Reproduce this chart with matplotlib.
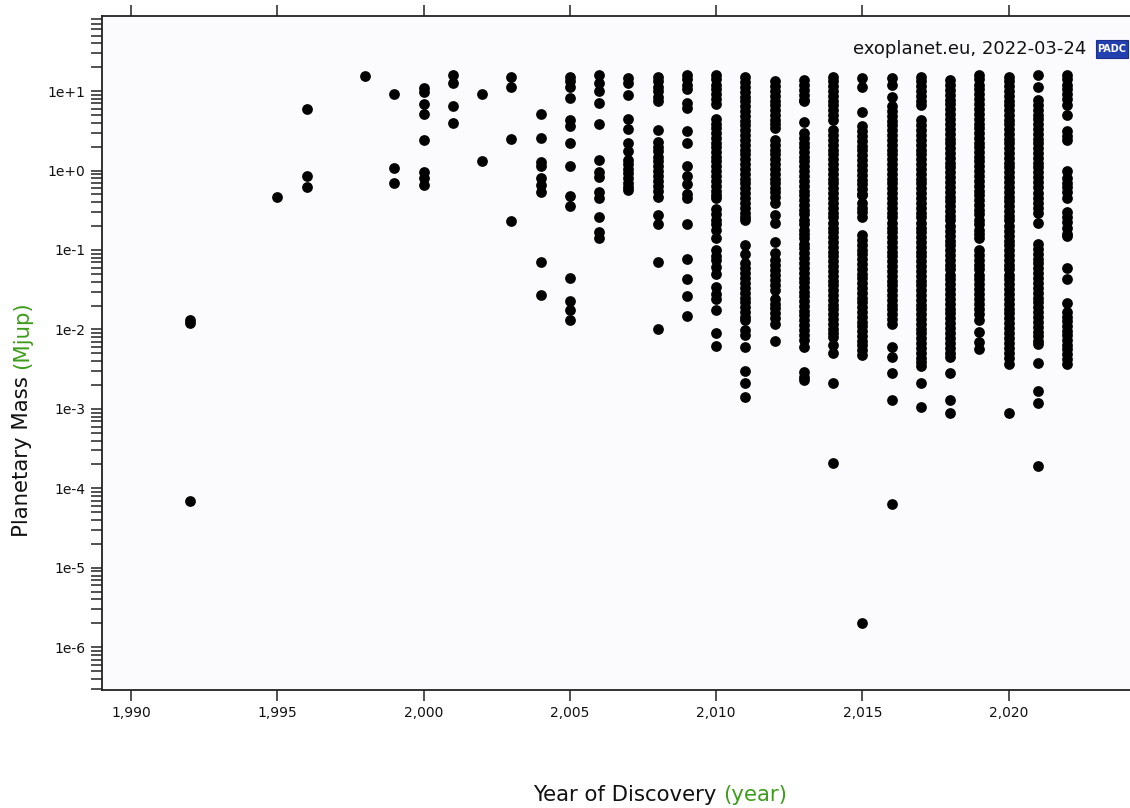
import matplotlib
matplotlib.use("Agg")
import matplotlib.pyplot as plt
from matplotlib.patches import Rectangle
from matplotlib.ticker import LogLocator, NullFormatter

# planetary masses (Mjup) per discovery year
m1992 = [0.013, 0.012, 7e-5]
m1995 = [0.47]
m1996 = [5.9, 0.85, 0.62]
m1998 = [15.4]
m1999 = [9.3, 1.07, 0.70]
m2000 = [10.9, 9.7, 6.9, 5.1, 2.4, 0.97, 0.80, 0.66]
m2001 = [15.8, 12.8, 6.4, 4.0]
m2002 = [9.3, 1.33]
m2003 = [15.2, 11.4, 2.5, 0.23]
m2004 = [5.1, 2.6, 1.29, 1.14, 0.80, 0.66, 0.54, 0.070, 0.027]
m2005 = [15.2, 13.2, 11.2, 8.1, 4.3, 3.6, 2.2, 1.14, 0.48, 0.36, 0.045, 0.023, 0.0174, 0.013]
m2006 = [16, 12.6, 9.9, 7.0, 3.9, 1.36, 0.97, 0.84, 0.54, 0.45, 0.257, 0.17, 0.14]
m2007 = [14.6, 12.6, 9.0, 4.4, 3.3, 2.2, 1.75, 1.36, 1.2, 1.05, 0.92, 0.80, 0.70, 0.62, 0.57]
m2008 = [15.2, 13.2, 11.4, 10, 8.5, 7.4, 3.2, 2.3, 2.0, 1.75, 1.5, 1.3, 1.13, 0.98, 0.85, 0.74,
         0.64, 0.56, 0.47, 0.275, 0.21, 0.07, 0.01]
m2009 = [16, 14, 12, 10.5, 7.0, 6.1, 3.1, 2.24, 1.14, 0.85, 0.68, 0.51, 0.45, 0.21, 0.076, 0.043,
         0.026, 0.0147]
m2010 = [16, 14, 12, 10.5, 9.1, 7.9, 6.9, 4.5, 3.9, 3.4, 3, 2.6, 2.25, 1.95, 1.7, 1.5, 1.3,
         1.13, 0.98, 0.85, 0.74, 0.64, 0.56, 0.49, 0.45, 0.33, 0.28, 0.24, 0.21, 0.18, 0.14,
         0.1, 0.085, 0.074, 0.061, 0.05, 0.034, 0.028, 0.024, 0.0175, 0.009, 0.0062]
m2011 = [15.2, 13, 11.3, 9.8, 8.5, 7.4, 6.4, 5.6, 4.9, 4.2, 3.7, 3.2, 2.8, 2.4, 2.1, 1.8, 1.6,
         1.4, 1.2, 1.05, 0.91, 0.79, 0.69, 0.6, 0.52, 0.45, 0.39, 0.34, 0.29, 0.26, 0.24, 0.115,
         0.09, 0.068, 0.059, 0.051, 0.044, 0.038, 0.033, 0.029, 0.025, 0.022, 0.019, 0.0165,
         0.0145, 0.013, 0.0098, 0.0085, 0.006, 0.003, 0.0021, 0.0014]
m2012 = [13.2, 11.5, 10, 8.7, 7.6, 6.6, 5.7, 5, 4.3, 3.8, 3.4, 2.4, 2.1, 1.8, 1.6, 1.4, 1.2,
         1.05, 0.91, 0.79, 0.69, 0.6, 0.53, 0.47, 0.39, 0.275, 0.216, 0.126, 0.092, 0.074, 0.064,
         0.056, 0.049, 0.042, 0.036, 0.031, 0.0245, 0.021, 0.0185, 0.016, 0.0138, 0.0118, 0.0071]
m2013 = [13.8, 12, 10.4, 9, 7.8, 7.4, 4.1, 2.95, 2.55, 2.2, 1.95, 1.7, 1.5, 1.3, 1.13, 0.98,
         0.85, 0.74, 0.64, 0.56, 0.49, 0.42, 0.37, 0.32, 0.28, 0.24, 0.21, 0.18, 0.16, 0.14, 0.12,
         0.105, 0.091, 0.079, 0.069, 0.06, 0.052, 0.045, 0.039, 0.034, 0.03, 0.026, 0.0225,
         0.0195, 0.017, 0.015, 0.013, 0.0113, 0.0098, 0.0085, 0.0074, 0.006, 0.0029, 0.0025,
         0.0023]
m2014 = [15.2, 13.2, 11.5, 10, 8.7, 7.6, 6.6, 5.7, 5, 4.3, 3.2, 2.8, 2.4, 2.1, 1.8, 1.6, 1.4,
         1.2, 1.05, 0.91, 0.79, 0.69, 0.6, 0.52, 0.45, 0.39, 0.34, 0.29, 0.26, 0.22, 0.19, 0.17,
         0.145, 0.125, 0.11, 0.095, 0.083, 0.072, 0.062, 0.054, 0.047, 0.041, 0.036, 0.031,
         0.027, 0.0235, 0.0205, 0.018, 0.0155, 0.0135, 0.0117, 0.0102, 0.0089, 0.008, 0.0063,
         0.005, 0.0021, 0.00021]
m2015 = [14.6, 11.4, 5.5, 3.6, 3.1, 2.7, 2.35, 2.05, 1.8, 1.55, 1.35, 1.17, 1.02, 0.89, 0.77,
         0.67, 0.58, 0.51, 0.49, 0.39, 0.34, 0.3, 0.26, 0.154, 0.134, 0.116, 0.1, 0.088, 0.076,
         0.066, 0.058, 0.05, 0.044, 0.038, 0.033, 0.029, 0.025, 0.022, 0.019, 0.0165, 0.0145,
         0.0125, 0.011, 0.0095, 0.0083, 0.0072, 0.0063, 0.0055, 0.0047, 2.05e-6]
m2016 = [14.6, 12, 8.3, 6.4, 5.6, 4.9, 4.2, 3.7, 3.2, 2.8, 2.4, 2.1, 1.8, 1.6, 1.4, 1.2, 1.05,
         0.91, 0.79, 0.69, 0.6, 0.52, 0.45, 0.39, 0.34, 0.29, 0.26, 0.22, 0.19, 0.17, 0.145,
         0.125, 0.11, 0.095, 0.083, 0.072, 0.062, 0.054, 0.047, 0.041, 0.036, 0.031, 0.027,
         0.0235, 0.0205, 0.018, 0.0155, 0.0135, 0.0118, 0.006, 0.0045, 0.0028, 0.0013, 6.3e-5]
m2017 = [15.2, 13.2, 11.5, 10, 8.7, 7.6, 6.7, 4.3, 3.7, 3.2, 2.8, 2.4, 2.1, 1.8, 1.6, 1.4, 1.2,
         1.05, 0.91, 0.79, 0.69, 0.6, 0.52, 0.45, 0.39, 0.34, 0.29, 0.26, 0.22, 0.19, 0.17, 0.145,
         0.125, 0.11, 0.095, 0.083, 0.072, 0.062, 0.054, 0.047, 0.041, 0.036, 0.031, 0.027,
         0.0235, 0.0205, 0.018, 0.0155, 0.0135, 0.0117, 0.0102, 0.0089, 0.0077, 0.0067, 0.0058,
         0.005, 0.0044, 0.0039, 0.0035, 0.0021, 0.00105]
m2018 = [13.8, 12, 10.4, 9, 7.8, 6.8, 5.9, 5.1, 4.4, 3.8, 3.3, 2.9, 2.5, 2.2, 1.9, 1.65, 1.45,
         1.25, 1.1, 0.95, 0.83, 0.72, 0.62, 0.54, 0.47, 0.41, 0.36, 0.31, 0.27, 0.235, 0.2, 0.175,
         0.15, 0.13, 0.115, 0.1, 0.087, 0.075, 0.065, 0.057, 0.049, 0.043, 0.037, 0.032, 0.028,
         0.024, 0.021, 0.018, 0.016, 0.014, 0.012, 0.0104, 0.009, 0.0078, 0.0068, 0.0059, 0.0051,
         0.0045, 0.0028, 0.0013, 0.0009]
m2019 = [16, 14, 12, 10.5, 9.1, 7.9, 6.9, 6, 5.2, 4.5, 3.9, 3.4, 3, 2.6, 2.25, 1.95, 1.7, 1.5,
         1.3, 1.13, 0.98, 0.85, 0.74, 0.64, 0.56, 0.49, 0.42, 0.37, 0.32, 0.28, 0.24, 0.21, 0.18,
         0.16, 0.14, 0.1, 0.087, 0.075, 0.065, 0.057, 0.049, 0.043, 0.037, 0.032, 0.028, 0.024,
         0.021, 0.018, 0.0155, 0.013, 0.0093, 0.0069, 0.0057]
m2020 = [15.2, 13.2, 11.5, 10, 8.7, 7.6, 6.6, 5.7, 5, 4.3, 3.8, 3.3, 2.9, 2.5, 2.2, 1.9, 1.65,
         1.45, 1.25, 1.1, 0.95, 0.83, 0.72, 0.62, 0.54, 0.47, 0.41, 0.36, 0.31, 0.27, 0.235, 0.2,
         0.175, 0.15, 0.13, 0.115, 0.1, 0.087, 0.075, 0.065, 0.057, 0.049, 0.043, 0.037, 0.032,
         0.028, 0.024, 0.021, 0.018, 0.016, 0.014, 0.012, 0.0104, 0.009, 0.0078, 0.0068, 0.0059,
         0.0051, 0.0044, 0.0037, 0.0009]
m2021 = [16, 11.4, 7.7, 6.7, 5.8, 5, 4.4, 3.8, 3.3, 2.9, 2.5, 2.2, 1.9, 1.65, 1.45, 1.25, 1.1,
         0.95, 0.83, 0.72, 0.62, 0.52, 0.45, 0.39, 0.34, 0.29, 0.216, 0.12, 0.104, 0.09, 0.078,
         0.068, 0.059, 0.051, 0.044, 0.038, 0.033, 0.029, 0.025, 0.022, 0.019, 0.0165, 0.0143,
         0.0124, 0.0108, 0.0094, 0.0082, 0.0072, 0.0066, 0.0038, 0.0017, 0.0012, 0.00019]
m2022 = [16, 14, 12, 10.5, 9.1, 7.9, 6.7, 5.0, 3.1, 2.7, 2.4, 1.0, 0.8, 0.7, 0.62, 0.54, 0.45,
         0.3, 0.26, 0.225, 0.19, 0.16, 0.15, 0.06, 0.043, 0.0216, 0.0166, 0.0145, 0.0127, 0.011,
         0.0096, 0.0084, 0.0073, 0.0064, 0.0056, 0.0049, 0.0042, 0.0037]

years = [1992, 1995, 1996, 1998, 1999, 2000, 2001, 2002, 2003, 2004, 2005, 2006, 2007, 2008,
         2009, 2010, 2011, 2012, 2013, 2014, 2015, 2016, 2017, 2018, 2019, 2020, 2021, 2022]
per_year = [m1992, m1995, m1996, m1998, m1999, m2000, m2001, m2002, m2003, m2004, m2005, m2006,
            m2007, m2008, m2009, m2010, m2011, m2012, m2013, m2014, m2015, m2016, m2017, m2018,
            m2019, m2020, m2021, m2022]

xticks = [1990, 1995, 2000, 2005, 2010, 2015, 2020]
xlabels = ["1,990", "1,995", "2,000", "2,005", "2,010", "2,015", "2,020"]
yticks = [1e1, 1e0, 1e-1, 1e-2, 1e-3, 1e-4, 1e-5, 1e-6]
ylabels = ["1e+1", "1e+0", "1e-1", "1e-2", "1e-3", "1e-4", "1e-5", "1e-6"]

GREEN = "#3d9c1c"
W, H = 1130, 808

fig = plt.figure(figsize=(W / 100, H / 100), dpi=100)
ax = fig.add_axes([102 / W, 1 - 690 / H, 1 - 102 / W, (690 - 16) / H])
ax.set_facecolor("#fbfbfd")

xs, ys = [], []
for yr, ms in zip(years, per_year):
    xs += [yr] * len(ms)
    ys += ms
ax.scatter(xs, ys, s=60, c="black", linewidths=0, zorder=3)

ax.set_yscale("log")
ax.set_xlim(1989.0, 2024.15)
ax.set_ylim(2.9e-7, 88)

ax.set_xticks(xticks)
ax.set_xticklabels(xlabels)
ax.set_yticks(yticks)
ax.set_yticklabels(ylabels)
ax.yaxis.set_minor_locator(LogLocator(base=10, subs=range(2, 10), numticks=30))
ax.yaxis.set_minor_formatter(NullFormatter())

ax.tick_params(axis="x", which="both", top=True, direction="out", length=8, width=1.1,
               labelsize=10, color="#222222", labelcolor="#111111")
ax.tick_params(axis="y", which="both", direction="out", length=8, width=1.1,
               labelsize=10, color="#222222", labelcolor="#111111", pad=4)
ax.spines["right"].set_visible(False)
for s in ["left", "bottom", "top"]:
    ax.spines[s].set_linewidth(1.3)
    ax.spines[s].set_color("#222222")

# source text and PADC badge
fig.text(1086 / W, 1 - 49 / H, "exoplanet.eu, 2022-03-24", ha="right", va="center",
         fontsize=13, color="#111111")
fig.patches.append(Rectangle((1096 / W, 1 - 58 / H), 32 / W, 18 / H, transform=fig.transFigure,
                             facecolor="#2340b0", edgecolor="#1a2f8a", linewidth=0.8))
fig.text(1112 / W, 1 - 49.5 / H, "PADC", ha="center", va="center", fontsize=7,
         fontweight="bold", color="white")

# axis titles with green units
fig.canvas.draw()
r = fig.canvas.get_renderer()
t1 = fig.text(533 / W, 1 - 795 / H, "Year of Discovery ", ha="left", va="center", fontsize=15.3,
              color="#111111")
bb = t1.get_window_extent(r)
fig.text(bb.x1 / W, 1 - 795 / H, "(year)", ha="left", va="center", fontsize=15.3, color=GREEN)

t2 = fig.text(22 / W, 1 - 537 / H, "Planetary Mass ", ha="center", va="bottom", rotation=90,
              fontsize=15.3, color="#111111")
bb = t2.get_window_extent(r)
fig.text(22 / W, bb.y1 / H, "(Mjup)", ha="center", va="bottom", rotation=90, fontsize=15.3,
         color=GREEN)

fig.savefig("out.png", dpi=100)
